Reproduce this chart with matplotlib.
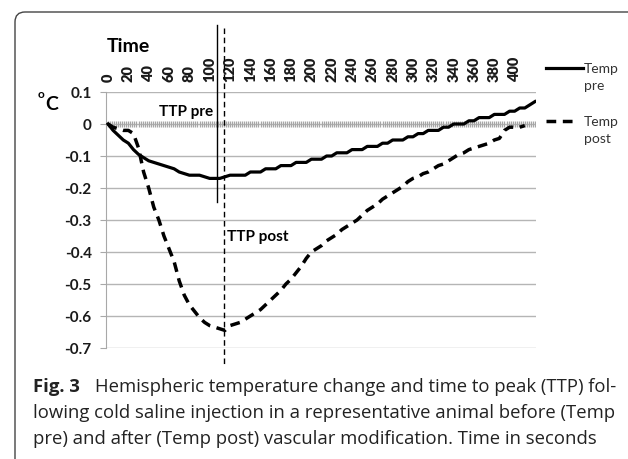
import numpy as np
import matplotlib
matplotlib.use('Agg')
from matplotlib import pyplot as plt
from matplotlib.lines import Line2D
from matplotlib.patches import FancyBboxPatch

# Temperature change (deg C), time in seconds
time_pre = list(range(0, 425, 5))
temp_pre = [0.0, -0.02, -0.035, -0.05, -0.06, -0.08, -0.095, -0.105, -0.115, -0.12,
            -0.125, -0.13, -0.135, -0.14, -0.15, -0.155, -0.16, -0.16, -0.16, -0.165,
            -0.17, -0.17, -0.17, -0.165, -0.16, -0.16, -0.16, -0.16, -0.15, -0.15,
            -0.15, -0.14, -0.14, -0.14, -0.13, -0.13, -0.13, -0.12, -0.12, -0.12,
            -0.11, -0.11, -0.11, -0.10, -0.10, -0.09, -0.09, -0.09, -0.08, -0.08,
            -0.08, -0.07, -0.07, -0.07, -0.06, -0.06, -0.05, -0.05, -0.05, -0.04,
            -0.04, -0.03, -0.03, -0.02, -0.02, -0.02, -0.01, -0.01, 0.0, 0.0,
            0.0, 0.01, 0.01, 0.02, 0.02, 0.02, 0.03, 0.03, 0.03, 0.04,
            0.04, 0.05, 0.05, 0.06, 0.07]

time_post = list(range(0, 415, 5))
temp_post = [0.0, -0.01, -0.015, -0.02, -0.02, -0.03, -0.075, -0.15, -0.20, -0.26,
             -0.30, -0.35, -0.39, -0.43, -0.49, -0.535, -0.565, -0.585, -0.605, -0.62,
             -0.63, -0.635, -0.64, -0.645, -0.63, -0.625, -0.62, -0.61, -0.60, -0.59,
             -0.58, -0.565, -0.55, -0.535, -0.52, -0.50, -0.485, -0.465, -0.445, -0.42,
             -0.40, -0.39, -0.38, -0.365, -0.355, -0.345, -0.33, -0.32, -0.31, -0.30,
             -0.285, -0.27, -0.26, -0.25, -0.235, -0.225, -0.215, -0.205, -0.195, -0.18,
             -0.17, -0.165, -0.155, -0.15, -0.14, -0.13, -0.125, -0.115, -0.105, -0.095,
             -0.09, -0.08, -0.075, -0.07, -0.065, -0.06, -0.05, -0.045, -0.02, -0.01,
             -0.01, -0.01, -0.005]

x_ticks = list(range(0, 420, 20))
y_ticks = [0.1, 0.0, -0.1, -0.2, -0.3, -0.4, -0.5, -0.6, -0.7]
y_labels = ['0.1', '0', '-0.1', '-0.2', '-0.3', '-0.4', '-0.5', '-0.6', '-0.7']

ttp_pre = 107
ttp_post = 114.5

caption1_bold = 'Fig. 3'
caption1 = 'Hemispheric temperature change and time to peak (TTP) fol-'
caption2 = 'lowing cold saline injection in a representative animal before (Temp'
caption3 = 'pre) and after (Temp post) vascular modification. Time in seconds'

W, H = 628, 460


def fx(x):
    return x / W


def fy(y):
    return 1 - y / H


plt.rcParams['font.family'] = ['Lato', 'DejaVu Sans']

fig = plt.figure(figsize=(6.28, 4.6), dpi=100)
ax = fig.add_axes([fx(106), fy(349), 430 / W, 256 / H])
ax.set_xlim(-2, 421)
ax.set_ylim(-0.7, 0.1)

# grid + axis
ax.set_yticks(y_ticks)
ax.set_yticklabels(y_labels, fontweight='bold', fontsize=11, color='#1a1a1a')
ax.yaxis.grid(True, color='#b5b5b5', lw=1.0)
ax.set_axisbelow(True)
for s in ['top', 'right', 'bottom']:
    ax.spines[s].set_visible(False)
ax.spines['left'].set_color('#a8a8a8')
ax.tick_params(axis='y', length=4.3, color='#a8a8a8', pad=6)

ax.xaxis.tick_top()
ax.set_xticks(x_ticks)
ax.set_xticklabels([str(v) for v in x_ticks], rotation=90, fontweight='heavy',
                   fontsize=10.5, color='#1a1a1a')
ax.tick_params(axis='x', length=0, pad=8)

# category tick marks along the zero line
ax.vlines(np.arange(0, 422, 2), -0.008, 0.008, color='#a6a6a6', lw=0.9, zorder=2)

# series
ax.plot(time_pre, temp_pre, color='black', lw=2.3, zorder=4)
ax.plot(time_post, temp_post, color='black', lw=2.5, dashes=(2.8, 1.9), zorder=4)

# time to peak markers
ax.plot([ttp_pre, ttp_pre], [0.31, -0.244], color='black', lw=1.0, clip_on=False, zorder=5)
ax.plot([ttp_post, ttp_post], [0.30, -0.76], color='black', lw=1.0, dashes=(4, 2.6),
        clip_on=False, zorder=5)
ax.text(ttp_pre - 4, 0.04, 'TTP pre', fontsize=11, fontweight='bold', ha='right', va='center')
ax.text(ttp_post + 3, -0.35, 'TTP post', fontsize=11, fontweight='bold', ha='left', va='center')

# axis titles
fig.text(fx(107), fy(46), 'Time', fontsize=14, fontweight='bold', va='center', ha='left')
fig.text(fx(38), fy(95), 'o', fontsize=8.5, fontweight='bold', va='center', ha='left')
fig.text(fx(45), fy(104), 'C', fontsize=14, fontweight='bold', va='center', ha='left')

# legend
fig.add_artist(Line2D([fx(546), fx(583)], [fy(69), fy(69)], color='black', lw=2.3))
fig.add_artist(Line2D([fx(546), fx(575)], [fy(122), fy(122)], color='black', lw=2.5,
                      dashes=(2.8, 1.9)))
for txt, y in [('Temp', 69), ('pre', 86), ('Temp', 122), ('post', 139)]:
    fig.text(fx(584), fy(y), txt, fontsize=10, va='center', color='#333333')

# rounded frame
frame = FancyBboxPatch((0.15, -0.5), 7.0, 4.97, boxstyle='round,pad=0,rounding_size=0.1',
                       transform=fig.dpi_scale_trans, fill=False, ec='#444444', lw=1.0)
fig.add_artist(frame)

# caption, sized so the full line fills the column
cap_font = ['Open Sans', 'DejaVu Sans']
fig.canvas.draw()
r = fig.canvas.get_renderer()
t2 = fig.text(fx(33), fy(413), caption2, fontsize=13, family=cap_font, va='center', color='#222222')
w = t2.get_window_extent(r).width
fs = 13 * (611 - 33) / w
t2.set_fontsize(fs)
fig.text(fx(33), fy(387), caption1_bold, fontsize=fs, family=cap_font, fontweight='bold',
         va='center', color='#222222')
fig.text(fx(95), fy(387), caption1, fontsize=fs, family=cap_font, va='center', color='#222222')
fig.text(fx(33), fy(439), caption3, fontsize=fs, family=cap_font, va='center', color='#222222')

fig.savefig('out.png', dpi=100)
